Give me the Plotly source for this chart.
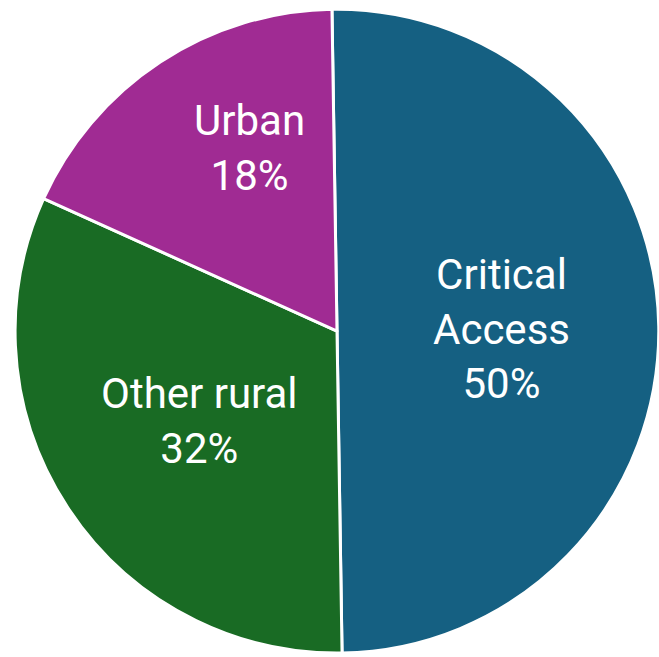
import math
import plotly.graph_objects as go

# Share of facilities by type
categories = ["Critical Access", "Other rural", "Urban"]
shares = [50, 32, 18]
label_names = ["Critical<br>Access", "Other rural", "Urban"]
slice_colors = ["#156082", "#196B24", "#A02B93"]

# Pie geometry (paper fractions) and label placement
W, H = 659, 657
DOMAIN_X = [15 / W, 1.0]
DOMAIN_Y = [0.006, 0.986]
ROTATION = -0.9                      # degrees, clockwise from 12 o'clock
LABEL_RADIUS = [0.51, 0.51, 0.63]    # fraction of pie radius
LABEL_SPAN_POS = [0.5, 0.5, 0.62]    # position along each slice's arc

fig = go.Figure(
    go.Pie(
        labels=categories,
        values=shares,
        textinfo="none",
        sort=False,
        direction="clockwise",
        rotation=ROTATION,
        marker=dict(colors=slice_colors, line=dict(color="white", width=3)),
        domain=dict(x=DOMAIN_X, y=DOMAIN_Y),
        showlegend=False,
        hoverinfo="label+percent",
    )
)

# Slice labels placed inside each slice
dom_w = W * (DOMAIN_X[1] - DOMAIN_X[0])
dom_h = H * (DOMAIN_Y[1] - DOMAIN_Y[0])
radius = min(dom_w, dom_h) / 2
cx = (DOMAIN_X[0] + DOMAIN_X[1]) / 2
cy = (DOMAIN_Y[0] + DOMAIN_Y[1]) / 2
total = sum(shares)
start = ROTATION
for name, val, frac, pos in zip(label_names, shares, LABEL_RADIUS, LABEL_SPAN_POS):
    span = 360 * val / total
    ang = math.radians(start + span * pos)
    start += span
    fig.add_annotation(
        x=cx + frac * radius * math.sin(ang) / W,
        y=cy + frac * radius * math.cos(ang) / H,
        xref="paper",
        yref="paper",
        text=f"{name}<br>{round(100 * val / total)}%",
        showarrow=False,
        xanchor="center",
        yanchor="middle",
        align="center",
        font=dict(family="Roboto", size=42, color="white"),
    )

fig.update_layout(
    width=W,
    height=H,
    margin=dict(l=0, r=0, t=0, b=0),
    paper_bgcolor="white",
    plot_bgcolor="white",
)

fig.write_html("out.html")
